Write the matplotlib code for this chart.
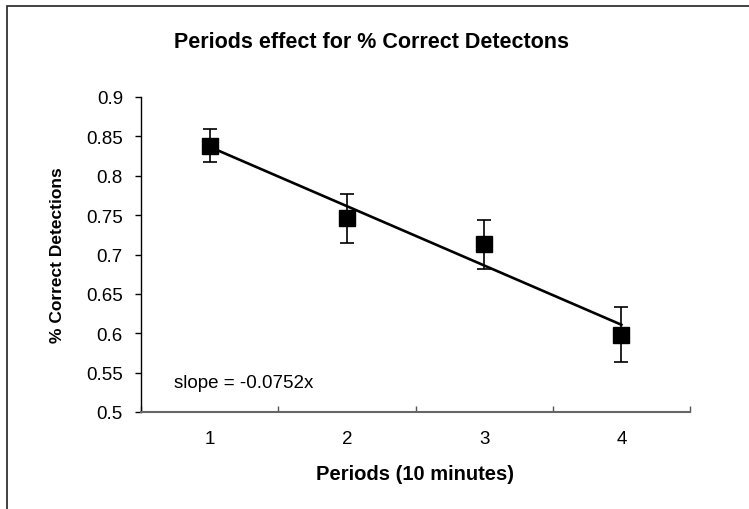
import matplotlib
matplotlib.use("Agg")
import matplotlib.pyplot as plt
import numpy as np
from matplotlib.patches import Rectangle

plt.rcParams['font.family'] = ['Liberation Sans', 'DejaVu Sans']

periods = [1, 2, 3, 4]
period_labels = ['1', '2', '3', '4']
correct = [0.838, 0.746, 0.713, 0.598]
errors = [0.021, 0.031, 0.031, 0.035]
slope_label = -0.0752
y_ticks = [0.5, 0.55, 0.6, 0.65, 0.7, 0.75, 0.8, 0.85, 0.9]
y_tick_labels = ['0.5', '0.55', '0.6', '0.65', '0.7', '0.75', '0.8', '0.85', '0.9']

fig = plt.figure(figsize=(7.49, 5.10), dpi=100)
ax = fig.add_axes([141/749, 97/510, (690-141)/749, (413-98)/510])

x = np.array(periods, dtype=float)
y = np.array(correct)
slope, intercept = np.polyfit(x, y, 1)
ax.plot(x, slope * x + intercept, color='black', lw=1.9, zorder=2)

ax.errorbar(x, y, yerr=errors, fmt='s', color='black', ms=11.5,
            ecolor='black', elinewidth=1.2, capsize=5, capthick=1.2, zorder=3)

ax.set_xlim(0.5, 4.5)
ax.set_ylim(0.5, 0.9)
ax.set_yticks(y_ticks)
ax.set_yticklabels(y_tick_labels, fontsize=13.5)
ax.set_xticks([0.5, 1.5, 2.5, 3.5, 4.5])
ax.set_xticklabels([])
ax.set_xticks(x, minor=True)
ax.set_xticklabels(period_labels, minor=True, fontsize=13.5)
ax.tick_params(axis='x', which='major', direction='in', length=4, width=1, color='#555555')
ax.tick_params(axis='x', which='minor', length=0, pad=13)
ax.tick_params(axis='y', direction='out', length=4, width=1, pad=9)

for s in ['top', 'right']:
    ax.spines[s].set_visible(False)
ax.spines['left'].set_color('black')
ax.spines['left'].set_linewidth(1)
ax.spines['bottom'].set_color('#666666')
ax.spines['bottom'].set_linewidth(1.5)

ax.set_xlabel('Periods (10 minutes)', fontsize=14.5, fontweight='bold', labelpad=12)
ax.set_ylabel('% Correct Detections', fontsize=12.5, fontweight='bold', labelpad=15)

fig.text(372/749, 1 - 42/510, 'Periods effect for % Correct Detectons',
         ha='center', va='center', fontsize=15.5, fontweight='bold')

ax.text(0.06, 0.095, 'slope = %.4fx' % slope_label, transform=ax.transAxes,
        fontsize=13.5, ha='left', va='center')

fig.patches.append(Rectangle((7/749, -0.1), 1.2, 1 - 7/510 + 0.1, transform=fig.transFigure,
                             fill=False, edgecolor='#333333', lw=1.3))

fig.savefig('out.png', dpi=100)
